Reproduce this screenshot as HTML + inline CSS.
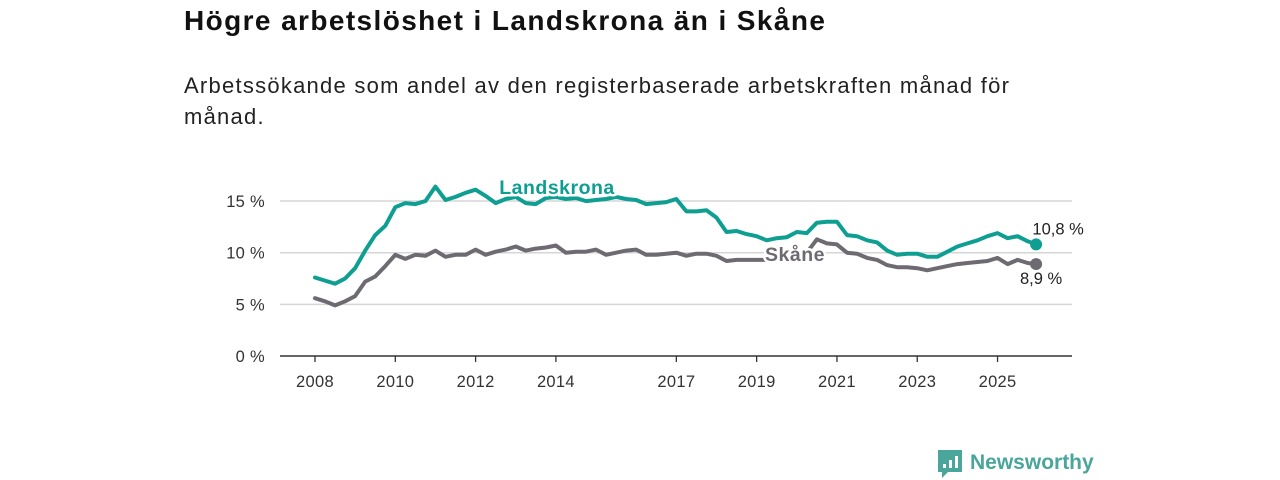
<!DOCTYPE html>
<html><head><meta charset="utf-8">
<style>
body{margin:0;background:#fff;font-family:"Liberation Sans",sans-serif;}
#wrap{position:relative;width:1280px;height:480px;overflow:hidden;}
h1{position:absolute;left:184px;top:5px;margin:0;font-size:28px;letter-spacing:1.4px;font-weight:bold;color:#111;}
p.sub{position:absolute;left:184px;top:70px;margin:0;font-size:22px;letter-spacing:1.25px;line-height:31px;color:#222;width:860px;}
svg{position:absolute;left:0;top:0;}
</style></head><body>
<div id="wrap">
<h1>Högre arbetslöshet i Landskrona än i Skåne</h1>
<p class="sub">Arbetssökande som andel av den registerbaserade arbetskraften månad för månad.</p>
<svg id="chart" width="1280" height="480"></svg>
</div>
<script>
const times=[2008,2008.25,2008.5,2008.75,2009,2009.25,2009.5,2009.75,2010,2010.25,2010.5,2010.75,2011,2011.25,2011.5,2011.75,2012,2012.25,2012.5,2012.75,2013,2013.25,2013.5,2013.75,2014,2014.25,2014.5,2014.75,2015,2015.25,2015.5,2015.75,2016,2016.25,2016.5,2016.75,2017,2017.25,2017.5,2017.75,2018,2018.25,2018.5,2018.75,2019,2019.25,2019.5,2019.75,2020,2020.25,2020.5,2020.75,2021,2021.25,2021.5,2021.75,2022,2022.25,2022.5,2022.75,2023,2023.25,2023.5,2023.75,2024,2024.25,2024.5,2024.75,2025,2025.25,2025.5,2025.75,2025.96];
const landskrona=[7.6,7.3,7.0,7.5,8.5,10.2,11.7,12.6,14.4,14.8,14.7,15.0,16.4,15.1,15.4,15.8,16.1,15.5,14.8,15.2,15.4,14.8,14.7,15.3,15.4,15.2,15.3,15.0,15.1,15.2,15.4,15.2,15.1,14.7,14.8,14.9,15.2,14.0,14.0,14.1,13.4,12.0,12.1,11.8,11.6,11.2,11.4,11.5,12.0,11.9,12.9,13.0,13.0,11.7,11.6,11.2,11.0,10.2,9.8,9.9,9.9,9.6,9.6,10.1,10.6,10.9,11.2,11.6,11.9,11.4,11.6,11.1,10.8];
const skane=[5.6,5.3,4.9,5.3,5.8,7.2,7.7,8.7,9.8,9.4,9.8,9.7,10.2,9.6,9.8,9.8,10.3,9.8,10.1,10.3,10.6,10.2,10.4,10.5,10.7,10.0,10.1,10.1,10.3,9.8,10.0,10.2,10.3,9.8,9.8,9.9,10.0,9.7,9.9,9.9,9.7,9.2,9.3,9.3,9.3,9.3,9.5,9.8,9.9,10.0,11.3,10.9,10.8,10.0,9.9,9.5,9.3,8.8,8.6,8.6,8.5,8.3,8.5,8.7,8.9,9.0,9.1,9.2,9.5,8.9,9.3,9.0,8.9];
const yTicks=[0,5,10,15];
const yTickLabels=["0 %","5 %","10 %","15 %"];
const xTicks=[2008,2010,2012,2014,2017,2019,2021,2023,2025];
const NS="http://www.w3.org/2000/svg";
const svg=document.getElementById('chart');
const X=t=>315+(t-2008)*40.15;
const Y=v=>356-v*10.33;
function mk(tag,attrs,txt){const e=document.createElementNS(NS,tag);for(const k in attrs)e.setAttribute(k,attrs[k]);if(txt!==undefined)e.textContent=txt;svg.appendChild(e);return e;}
yTicks.forEach((v,i)=>{
  if(v>0){const g=mk('line',{x1:280,x2:1072,y1:Y(v),y2:Y(v),stroke:'#d6d6d6','stroke-width':1.5});
  
  }
  const t=mk('text',{x:265,y:Y(v)+6,'text-anchor':'end','font-size':16.5,'letter-spacing':0.3,fill:'#333','font-family':'Liberation Sans, sans-serif'},yTickLabels[i]);
  
  
});
const ax=mk('line',{x1:280,x2:1072,y1:356,y2:356,stroke:'#333','stroke-width':1.5});


xTicks.forEach(t=>{
  const l=mk('line',{x1:X(t),x2:X(t),y1:356,y2:362,stroke:'#333','stroke-width':1.3});
  
  
  const tx=mk('text',{x:X(t),y:387,'text-anchor':'middle','font-size':16.5,'letter-spacing':0.3,fill:'#333','font-family':'Liberation Sans, sans-serif'},String(t));
  
  
});
function line(vals,color,name){
  const d=vals.map((v,i)=>(i?'L':'M')+X(times[i]).toFixed(1)+','+Y(v).toFixed(1)).join(' ');
  const p=mk('path',{d:d,fill:'none',stroke:color,'stroke-width':4,'stroke-linejoin':'round','stroke-linecap':'round'});
  
  
  const n=vals.length-1;
  const c=mk('circle',{cx:X(times[n]),cy:Y(vals[n]),r:6,fill:color});
  
  
}
line(skane,'#6d6a71','skane');
line(landskrona,'#0e9f92','landskrona');
const n=times.length-1;
const l1=mk('text',{x:X(times[n])+22,y:Y(landskrona[n])-10,'text-anchor':'middle','font-size':16.5,fill:'#222','font-family':'Liberation Sans, sans-serif'},String(landskrona[n]).replace('.',',')+' %');


const l2=mk('text',{x:X(times[n])+5,y:Y(skane[n])+20,'text-anchor':'middle','font-size':16.5,fill:'#222','font-family':'Liberation Sans, sans-serif'},String(skane[n]).replace('.',',')+' %');


const s1=mk('text',{x:557,y:194,'text-anchor':'middle','font-size':19.5,'letter-spacing':0.5,'font-weight':'bold',fill:'#0e9f92',stroke:'#fff','stroke-width':5,'paint-order':'stroke','font-family':'Liberation Sans, sans-serif'},'Landskrona');


const s2=mk('text',{x:795,y:261,'text-anchor':'middle','font-size':19.5,'letter-spacing':0.5,'font-weight':'bold',fill:'#6d6a71',stroke:'#fff','stroke-width':5,'paint-order':'stroke','font-family':'Liberation Sans, sans-serif'},'Skåne');


const lg=mk('g',{});


const r=document.createElementNS(NS,'path');
r.setAttribute('d','M938 450 h24 v22 h-14 l-6 6 v-6 h-4 z');
r.setAttribute('fill','#4aa59b');
lg.appendChild(r);
[[943,464,4],[949,460,8],[955,456,12]].forEach(b=>{const q=document.createElementNS(NS,'rect');q.setAttribute('x',b[0]);q.setAttribute('y',b[1]);q.setAttribute('width',3);q.setAttribute('height',b[2]);q.setAttribute('fill','#fff');lg.appendChild(q);});
const lt=document.createElementNS(NS,'text');
lt.setAttribute('x',970);lt.setAttribute('y',469);lt.setAttribute('font-size',21);lt.setAttribute('font-weight','bold');lt.setAttribute('fill','#4aa59b');lt.setAttribute('font-family','Liberation Sans, sans-serif');
lt.textContent='Newsworthy';
lg.appendChild(lt);
</script>
</body></html>
